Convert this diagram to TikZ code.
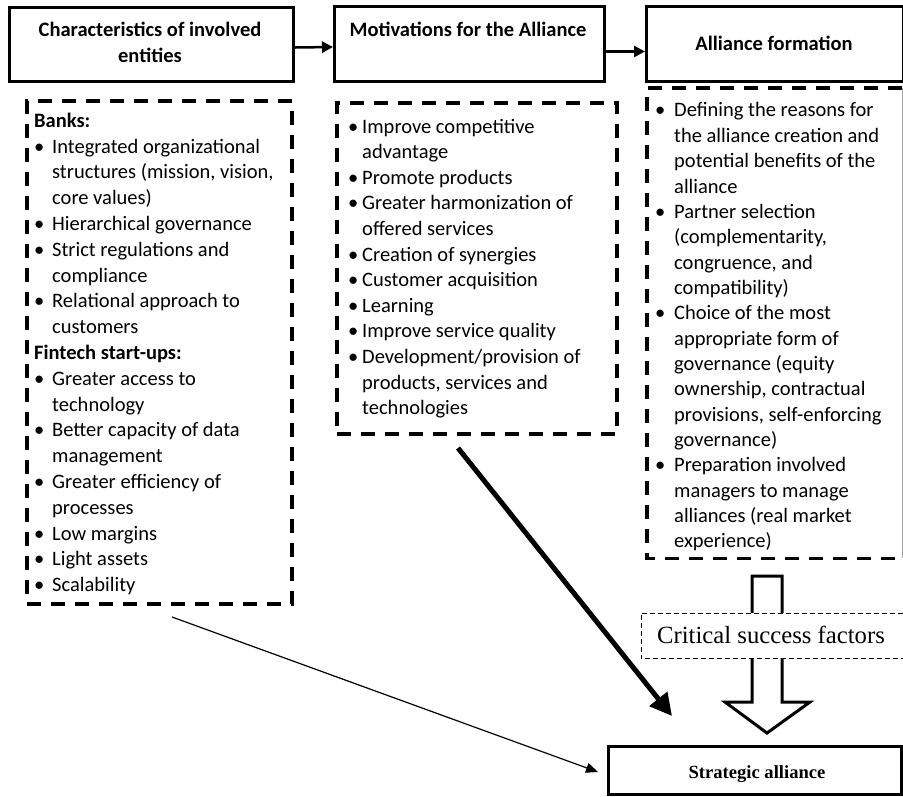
\documentclass[tikz,border=0pt]{standalone}
\usepackage{fontspec}
\setmainfont{Carlito}
\newfontfamily\tnr{Liberation Serif}
\usetikzlibrary{arrows.meta}
\newlength\bwa \setlength\bwa{26pt}
\newlength\bwb \setlength\bwb{18pt}
\newlength\bwc \setlength\bwc{28pt}
\newcommand\bla{\makebox[\bwa][c]{\textbullet}}
\newcommand\cla{\hspace*{\bwa}}
\newcommand\blb{\makebox[\bwb][c]{\textbullet}}
\newcommand\clb{\hspace*{\bwb}}
\newcommand\blc{\makebox[\bwc][c]{\textbullet}}
\newcommand\clc{\hspace*{\bwc}}
\begin{document}
\begin{tikzpicture}[x=1pt,y=-1pt,
  tbox/.style={draw, line width=3pt, inner sep=0pt, anchor=north west},
  ttext/.style={font=\bfseries\fontsize{20.5}{25}\selectfont, inner sep=0pt, anchor=base},
  dbox/.style={draw, line width=3.5pt, dash pattern=on 14pt off 10pt, inner sep=0pt, anchor=north west},
  dline/.style={line width=3.5pt, dash pattern=on 14pt off 10pt},
  ltext/.style={inner sep=0pt, anchor=north west, align=left},
  csfline/.style={line width=1pt, dash pattern=on 5pt off 3pt},
  flowarrow/.style={line width=2.5pt, -{Triangle[length=11pt,width=11pt]}},
  boldarrow/.style={line width=5pt, -{Triangle[length=22pt,width=22pt]}},
  thinarrow/.style={line width=1.2pt, -{Triangle[length=12pt,width=10pt]}}
]
\useasboundingbox (0,0) rectangle (903,796);

% title boxes
\node[tbox, minimum width=284pt, minimum height=74pt] (t1) at (8,6) {};
\node[tbox, minimum width=270pt, minimum height=75pt] (t2) at (333,5) {};
\node[tbox, minimum width=257pt, minimum height=75pt] (t3) at (645,5) {};
\node[ttext] (t1a) at (150,36) {Characteristics of involved};
\node[ttext] (t1b) at (150,62) {entities};
\node[ttext] (t2a) at (468,36) {Motivations for the Alliance};
\node[ttext] (t3a) at (774,50) {Alliance formation};

\draw[flowarrow] ([yshift=-3pt]t1.east) -- ([yshift=-3pt]t2.west);
\draw[flowarrow] ([yshift=-7.5pt]t2.east) -- ([yshift=-7.5pt]t3.west);

% dashed boxes
\node[dbox, minimum width=265pt, minimum height=503pt] (d1) at (25,99) {};
\node[dbox, minimum width=280pt, minimum height=331pt] (d2) at (335,101) {};
\node[inner sep=0pt, anchor=north west, minimum width=255pt, minimum height=470pt] (d3) at (647,88) {};
\draw[dline] (d3.north east) -- (d3.north west) -- (d3.south west) -- (d3.south east);
\draw[line width=0.8pt, gray!70] (d3.north east) -- (d3.south east);

% list texts
\node[ltext, font=\fontsize{20.5}{25.8}\selectfont] (l1) at (26,109) {%
\strut\hspace*{8pt}\textbf{Banks:}\\
\bla Integrated organizational\\
\cla structures (mission, vision,\\
\cla core values)\\
\bla Hierarchical governance\\
\bla Strict regulations and\\
\cla compliance\\
\bla Relational approach to\\
\cla customers\\
\hspace*{8pt}\textbf{Fintech start-ups:}\\
\bla Greater access to\\
\cla technology\\
\bla Better capacity of data\\
\cla management\\
\bla Greater efficiency of\\
\cla processes\\
\bla Low margins\\
\bla Light assets\\
\bla Scalability};

\node[ltext, font=\fontsize{20.5}{25.6}\selectfont] (l2) at (344,115) {%
\strut\blb Improve competitive\\
\clb advantage\\
\blb Promote products\\
\blb Greater harmonization of\\
\clb offered services\\
\blb Creation of synergies\\
\blb Customer acquisition\\
\blb Learning\\
\blb Improve service quality\\
\blb Development/provision of\\
\clb products, services and\\
\clb technologies};

\node[ltext, font=\fontsize{20.5}{25.35}\selectfont] (l3) at (646,99) {%
\strut\blc Defining the reasons for\\
\clc the alliance creation and\\
\clc potential benefits of the\\
\clc alliance\\
\blc Partner selection\\
\clc (complementarity,\\
\clc congruence, and\\
\clc compatibility)\\
\blc Choice of the most\\
\clc appropriate form of\\
\clc governance (equity\\
\clc ownership, contractual\\
\clc provisions, self-enforcing\\
\clc governance)\\
\blc Preparation involved\\
\clc managers to manage\\
\clc alliances (real market\\
\clc experience)};

% block arrow through critical success factors
\draw[line width=3pt, fill=white, line join=miter] (752,576) -- (782,576) -- (782,702) -- (810,702) -- (767,733) -- (725,702) -- (752,702) -- cycle;
\node[inner sep=0pt, anchor=north west, minimum width=262pt, minimum height=45pt, fill=white] (csf) at (641,613) {};
\draw[csfline] (csf.north east) -- (csf.north west) -- (csf.south west) -- (csf.south east);
\node[inner sep=0pt, anchor=base, font=\tnr\fontsize{24.7}{28}\selectfont] (csft) at (771,643) {Critical success factors};

% strategic alliance
\node[tbox, minimum width=293pt, minimum height=48pt] (sa) at (607,745) {};
\node[inner sep=0pt, anchor=base, font=\tnr\bfseries\fontsize{18.6}{22}\selectfont] (sat) at (757,778) {Strategic alliance};

% connectors
\coordinate (a1) at (458,448);
\coordinate (a2) at (672,716);
\draw[boldarrow] (a1) -- (a2);
\coordinate (b1) at (172,617);
\coordinate (b2) at (598,772);
\draw[thinarrow] (b1) -- (b2);
\end{tikzpicture}
\end{document}
